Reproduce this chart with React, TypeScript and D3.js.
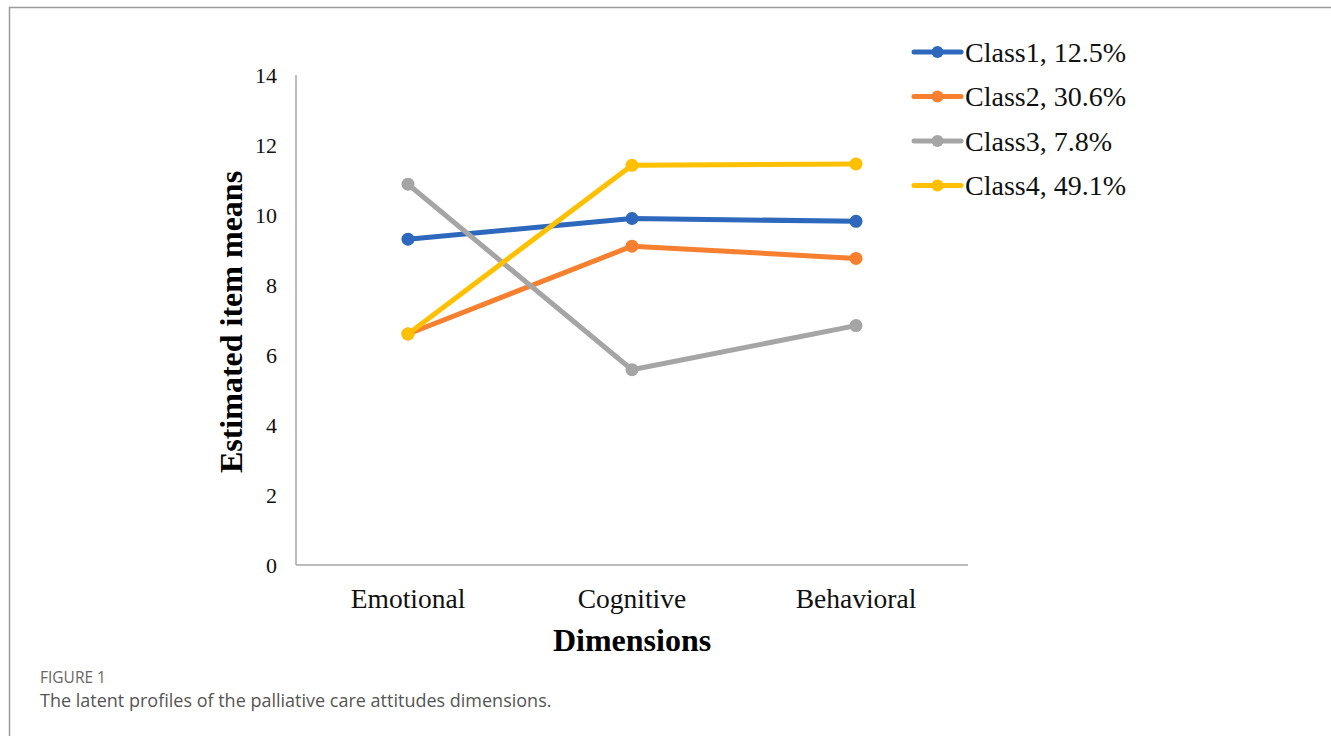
import React from "react";
import * as d3 from "d3";

// Data
const dimensions = ["Emotional", "Cognitive", "Behavioral"];
const classNames = ["Class1, 12.5%", "Class2, 30.6%", "Class3, 7.8%", "Class4, 49.1%"];
const class1 = [9.31, 9.9, 9.82];
const class2 = [6.6, 9.11, 8.76];
const class3 = [10.88, 5.58, 6.84];
const class4 = [6.6, 11.42, 11.46];
const seriesValues = [class1, class2, class3, class4];
const colors = ["#2E68BD", "#F6802F", "#A5A5A5", "#FFC000"];
const yTicks = [0, 2, 4, 6, 8, 10, 12, 14];

const W = 1331;
const H = 736;
const serif = "'Liberation Serif', 'Times New Roman', serif";
const sans = "'Open Sans', 'Noto Sans', sans-serif";

export default function App() {
  const x = d3.scaleBand().domain(dimensions).range([296, 968]);
  const y = d3.scaleLinear().domain([0, 14]).range([565, 75]);
  const cx = (i: number) => (x(dimensions[i]) as number) + x.bandwidth() / 2;
  const line = d3
    .line<number>()
    .x((_, i) => cx(i))
    .y((d) => y(d));

  return (
    <svg
      width={W}
      height={H}
      style={{ position: "absolute", left: 0, top: 0 }}
    >
      <rect x={0} y={0} width={W} height={H} fill="#fff" />
      {/* frame */}
      <path d={`M9.5,${H} V7.5 H${W}`} fill="none" stroke="#9a9a9a" strokeWidth={1.5} />

      {/* axes */}
      <line x1={296} x2={296} y1={y(14)} y2={y(0)} stroke="#a6a6a6" strokeWidth={1.5} />
      <line x1={296} x2={968} y1={y(0)} y2={y(0)} stroke="#a6a6a6" strokeWidth={1.5} />

      {yTicks.map((t) => (
        <text
          key={t}
          x={277}
          y={y(t)}
          dy="0.35em"
          textAnchor="end"
          fontFamily={serif}
          fontSize={22}
          fill="#111"
        >
          {t}
        </text>
      ))}

      {dimensions.map((d, i) => (
        <text
          key={d}
          x={cx(i)}
          y={598}
          dy="0.35em"
          textAnchor="middle"
          fontFamily={serif}
          fontSize={27.5}
          fill="#111"
        >
          {d}
        </text>
      ))}

      <text
        x={632}
        y={640}
        dy="0.35em"
        textAnchor="middle"
        fontFamily={serif}
        fontWeight="bold"
        fontSize={32}
        fill="#000"
      >
        Dimensions
      </text>
      <text
        transform={`translate(231,${y(7) + 2}) rotate(-90)`}
        dy="0.35em"
        textAnchor="middle"
        fontFamily={serif}
        fontWeight="bold"
        fontSize={32}
        fill="#000"
      >
        Estimated item means
      </text>

      {/* series */}
      {seriesValues.map((vals, si) => (
        <g key={si}>
          <path
            d={line(vals) || ""}
            fill="none"
            stroke={colors[si]}
            strokeWidth={5}
            strokeLinejoin="round"
            strokeLinecap="round"
          />
          {vals.map((v, i) => (
            <circle key={i} cx={cx(i)} cy={y(v)} r={6.5} fill={colors[si]} />
          ))}
        </g>
      ))}

      {/* legend */}
      {classNames.map((name, i) => {
        const ly = 52 + i * 44.5;
        return (
          <g key={name}>
            <line x1={914} x2={961} y1={ly} y2={ly} stroke={colors[i]} strokeWidth={5} strokeLinecap="round" />
            <circle cx={937.5} cy={ly} r={6} fill={colors[i]} />
            <text x={965} y={ly} dy="0.35em" fontFamily={serif} fontSize={28} fill="#111">
              {name}
            </text>
          </g>
        );
      })}

      {/* caption */}
      <text x={40} y={683} fontFamily={sans} fontSize={15.5} fill="#666">
        FIGURE 1
      </text>
      <text x={40} y={707} fontFamily={sans} fontSize={18} fill="#555">
        The latent profiles of the palliative care attitudes dimensions.
      </text>
    </svg>
  );
}
